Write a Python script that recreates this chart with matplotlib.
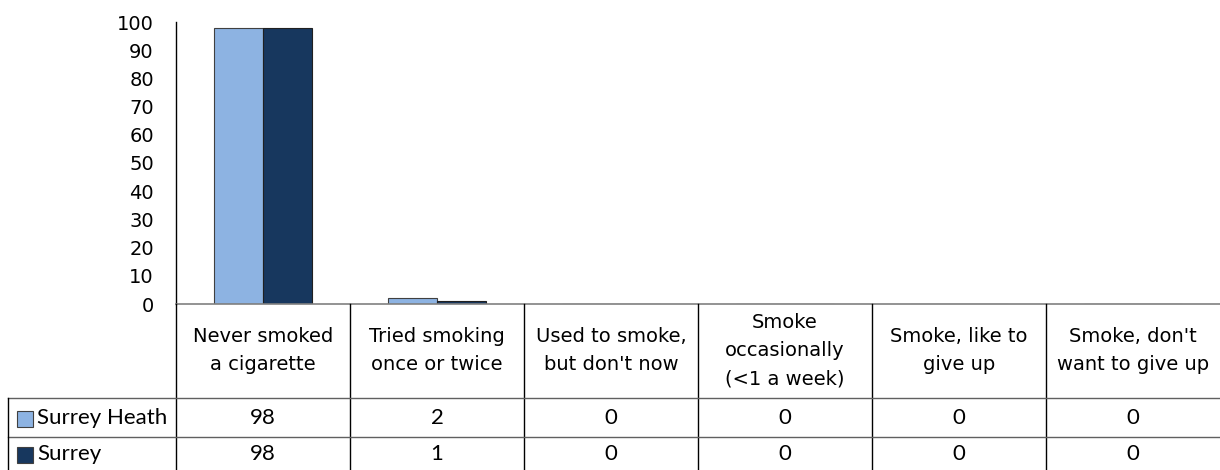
import matplotlib
matplotlib.use("Agg")
import matplotlib.pyplot as plt
from matplotlib.lines import Line2D
from matplotlib.patches import Rectangle

categories = ["Never smoked\na cigarette", "Tried smoking\nonce or twice", "Used to smoke,\nbut don't now",
              "Smoke\noccasionally\n(<1 a week)", "Smoke, like to\ngive up", "Smoke, don't\nwant to give up"]
series_names = ["Surrey Heath", "Surrey"]
surrey_heath = [98, 2, 0, 0, 0, 0]
surrey = [98, 1, 0, 0, 0, 0]
yticks = list(range(0, 101, 10))

colors = ["#8DB3E2", "#17375E"]
W, H = 1220, 470
plt.rcParams['font.family'] = ['DejaVu Sans']
ROWFONT = ['Lato', 'DejaVu Sans']

fig = plt.figure(figsize=(W / 100, H / 100), dpi=100)

def fx(x):
    return x / W

def fy(y):
    return 1 - y / H

ax_left, ax_right, ax_top, ax_bot = 176, 1220, 22, 304
ax = fig.add_axes([fx(ax_left), fy(ax_bot), fx(ax_right - ax_left), (ax_bot - ax_top) / H])
n = len(categories)
xs = list(range(n))
bw = 0.28
ax.bar([x - bw / 2 for x in xs], surrey_heath, width=bw, color=colors[0], edgecolor="#404040", linewidth=0.8, zorder=3)
ax.bar([x + bw / 2 for x in xs], surrey, width=bw, color=colors[1], edgecolor="#202020", linewidth=0.8, zorder=3)
ax.set_xlim(-0.5, n - 0.5)
ax.set_ylim(0, 100)
ax.set_yticks(yticks)
ax.set_yticklabels([str(t) for t in yticks], fontsize=14)
ax.tick_params(axis='y', length=0, pad=16)
ax.tick_params(axis='x', length=0, labelbottom=False)
for s in ["top", "right"]:
    ax.spines[s].set_visible(False)
ax.spines["left"].set_color("black")
ax.spines["left"].set_linewidth(1.0)
ax.spines["bottom"].set_color("#808080")
ax.spines["bottom"].set_linewidth(1.2)
ax.spines["bottom"].set_zorder(4)

# Data table
col_w = (ax_right - ax_left) / n
header_top, header_bot = 304, 398
row_bounds = [398, 437, 470]
label_left = 8

def hline(x0, x1, y, color="#606060", lw=1.0):
    fig.add_artist(Line2D([fx(x0), fx(x1)], [fy(y), fy(y)], color=color, lw=lw))

def vline(x, y0, y1, color="black", lw=1.0):
    fig.add_artist(Line2D([fx(x), fx(x)], [fy(y0), fy(y1)], color=color, lw=lw))

for i in range(n):
    vline(ax_left + i * col_w, header_top, H)
hline(label_left, W, row_bounds[0])
hline(label_left, W, row_bounds[1])
vline(label_left, row_bounds[0], H)

for i, cat in enumerate(categories):
    cx = ax_left + (i + 0.5) * col_w
    fig.text(fx(cx), fy((header_top + header_bot) / 2), cat, ha="center", va="center",
             fontsize=14, linespacing=1.6)

series_vals = [surrey_heath, surrey]
for r, (name, vals) in enumerate(zip(series_names, series_vals)):
    y0, y1 = row_bounds[r], row_bounds[r + 1]
    cy = (y0 + y1) / 2 + 1
    fig.add_artist(Rectangle((fx(17), fy(cy + 8)), 16 / W, 16 / H, facecolor=colors[r],
                             edgecolor="#404040", lw=0.8))
    fig.text(fx(37), fy(cy), name, ha="left", va="center", fontsize=16, family=ROWFONT)
    for i, v in enumerate(vals):
        cx = ax_left + (i + 0.5) * col_w
        fig.text(fx(cx), fy(cy), str(v), ha="center", va="center", fontsize=16, family=ROWFONT)

fig.savefig("out.png", dpi=100)
